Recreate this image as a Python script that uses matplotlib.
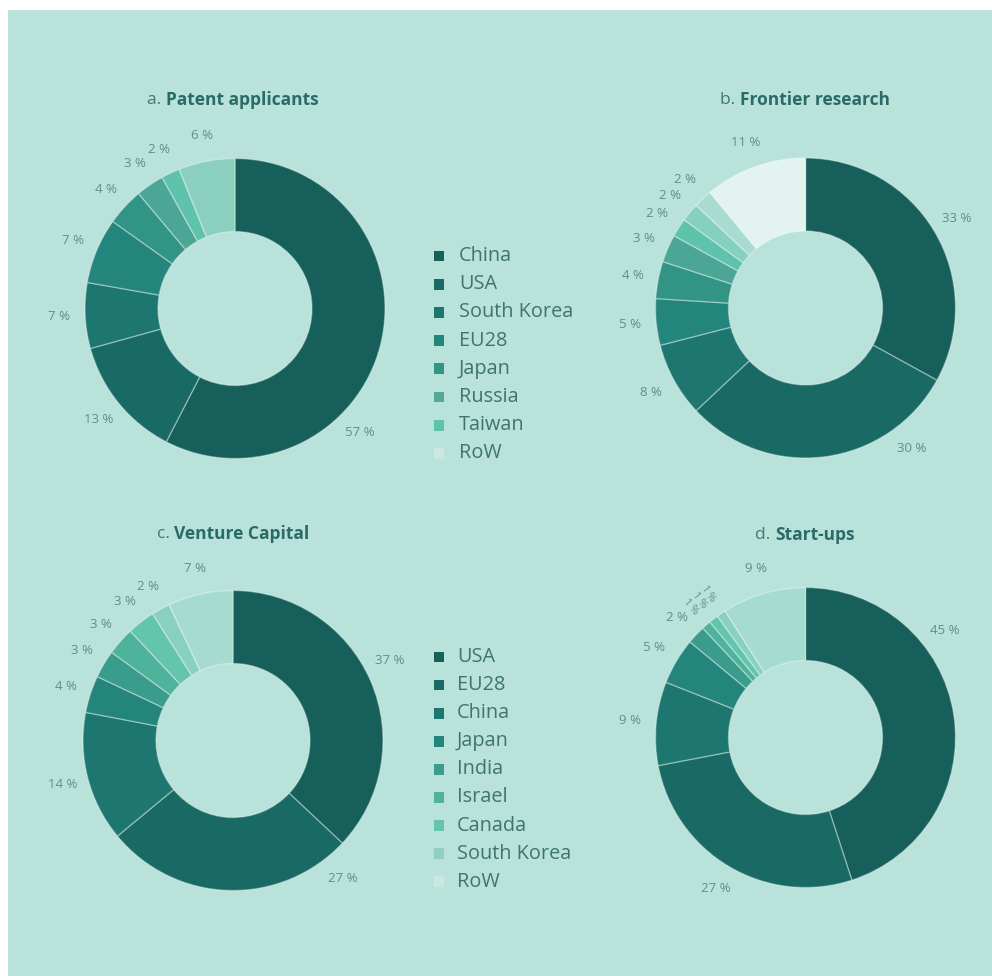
import matplotlib
matplotlib.use("Agg")
import matplotlib.pyplot as plt
from matplotlib.patches import Rectangle
import numpy as np

# ---------------- data ----------------
cats_a = ["China", "USA", "South Korea", "EU28", "Japan", "Russia", "Taiwan", "RoW"]
vals_a = [57, 13, 7, 7, 4, 3, 2, 6]

cats_b = ["China", "USA", "South Korea", "EU28", "Japan", "Russia", "Taiwan", "Other A", "Other B", "RoW"]
vals_b = [33, 30, 8, 5, 4, 3, 2, 2, 2, 11]

cats_c = ["USA", "EU28", "China", "Japan", "India", "Israel", "Canada", "South Korea", "RoW"]
vals_c = [37, 27, 14, 4, 3, 3, 3, 2, 7]

cats_d = ["USA", "EU28", "China", "Japan", "India", "Israel", "Canada", "South Korea", "RoW"]
vals_d = [45, 27, 9, 5, 2, 1, 1, 1, 9]

legend_top = ["China", "USA", "South Korea", "EU28", "Japan", "Russia", "Taiwan", "RoW"]
legend_bottom = ["USA", "EU28", "China", "Japan", "India", "Israel", "Canada", "South Korea", "RoW"]

titles = [("a.", "Patent applicants"), ("b.", "Frontier research"),
          ("c.", "Venture Capital"), ("d.", "Start-ups")]

# ---------------- styles ----------------
pal_a = ["#165f5b", "#196a64", "#1d7770", "#23857c", "#319485", "#4ba696", "#5ec3aa", "#8bd0bf"]
pal_b = ["#165f5b", "#196a64", "#1d7770", "#23857c", "#319485", "#4ba696", "#5ec3aa", "#86d0bf", "#a8dcd0", "#e3f4f0"]
pal_c = ["#165f5b", "#196a64", "#1d7770", "#23857c", "#3a9c8c", "#4fb39c", "#62c5ac", "#88d1c0", "#a6dcd0"]
leg_top_cols = ["#165f5b", "#196a64", "#1d7770", "#23857c", "#319485", "#55a896", "#5ec3aa", "#c8e8e1"]
leg_bot_cols = ["#165f5b", "#196a64", "#1d7770", "#23857c", "#3a9c8c", "#4fb39c", "#62c5ac", "#8fd0c0", "#c8e8e1"]

BG = "#b8e2da"
TITLE_C = "#2b6b67"
LABEL_C = "#5e8f8a"
LEG_C = "#3f7470"
FONT = ["Open Sans", "DejaVu Sans"]
plt.rcParams["font.family"] = FONT

W, H = 992, 976
fig = plt.figure(figsize=(W / 100, H / 100), dpi=100)
fig.patch.set_facecolor("white")
fig.add_artist(Rectangle((8 / W, 0), 1, (H - 10) / H, transform=fig.transFigure,
                         facecolor=BG, edgecolor="none", zorder=0))

ax = fig.add_axes([0, 0, 1, 1])
ax.set_xlim(0, W)
ax.set_ylim(0, H)
ax.set_aspect("equal")
ax.axis("off")
ax.patch.set_alpha(0)


def Y(y):
    return H - y


R = 150
RIN = 77
LR = 176  # label radius

charts = [
    dict(vals=vals_a, pal=pal_a, cx=235, cy=308.5, override={0: -45}),
    dict(vals=vals_b, pal=pal_b, cx=805.5, cy=308, override={1: -53}),
    dict(vals=vals_c, pal=pal_c, cx=233, cy=740.5, override={0: 27, 1: -51.5}),
    dict(vals=vals_d, pal=pal_c, cx=805.5, cy=737.5, override={0: 37.5}),
]

for ch in charts:
    vals = ch["vals"]
    ax.pie(vals, colors=ch["pal"], startangle=90, counterclock=False,
           center=(ch["cx"], Y(ch["cy"])), radius=R,
           wedgeprops=dict(width=R - RIN, edgecolor=(1, 1, 1, 0.35), linewidth=1.0),
           normalize=True, frame=True)
    tot = float(sum(vals))
    cum = 0.0
    for i, v in enumerate(vals):
        mid = 90 - 360 * (cum + v / 2) / tot
        cum += v
        ang = ch["override"].get(i, mid)
        rad = np.deg2rad(ang)
        if v <= 1:
            x = ch["cx"] + (LR - 2) * np.cos(rad)
            y = Y(ch["cy"]) + (LR - 2) * np.sin(rad)
            ax.text(x, y, f"{v} %", ha="center", va="center", fontsize=7.5,
                    color=LABEL_C, rotation=ang - 180)
        else:
            x = ch["cx"] + LR * np.cos(rad)
            y = Y(ch["cy"]) + LR * np.sin(rad)
            ax.text(x, y, f"{v} %", ha="center", va="center", fontsize=9.5,
                    color=LABEL_C)

ax.set_xlim(0, W)
ax.set_ylim(0, H)
ax.axis("off")

# titles
title_pos = [(233, 100), (805, 100), (233, 534), (805, 535)]
fig.canvas.draw()
renderer = fig.canvas.get_renderer()
for (pre, main), (tx, ty) in zip(titles, title_pos):
    t1 = ax.text(0, Y(ty), pre + " ", fontsize=12.5, color="#3f7a75", va="center", ha="left")
    t2 = ax.text(0, Y(ty), main, fontsize=12.5, color=TITLE_C, fontweight="bold", va="center", ha="left")
    w1 = t1.get_window_extent(renderer).width
    w2 = t2.get_window_extent(renderer).width
    x0 = tx - (w1 + w2) / 2
    t1.set_x(x0)
    t2.set_x(x0 + w1)

# legends
def draw_legend(names, cols, x_mark, x_text, y0, step):
    for i, (n, c) in enumerate(zip(names, cols)):
        y = Y(y0 + i * step)
        ax.scatter([x_mark], [y], marker="s", s=60, color=c, edgecolors="none", zorder=3)
        ax.text(x_text, y, n, fontsize=14.3, color=LEG_C, va="center", ha="left")

draw_legend(legend_top, leg_top_cols, 439, 459, 256, 28.2)
draw_legend(legend_bottom, leg_bot_cols, 439, 457, 657, 28.1)

fig.savefig("out.png", dpi=100, facecolor=fig.get_facecolor())
